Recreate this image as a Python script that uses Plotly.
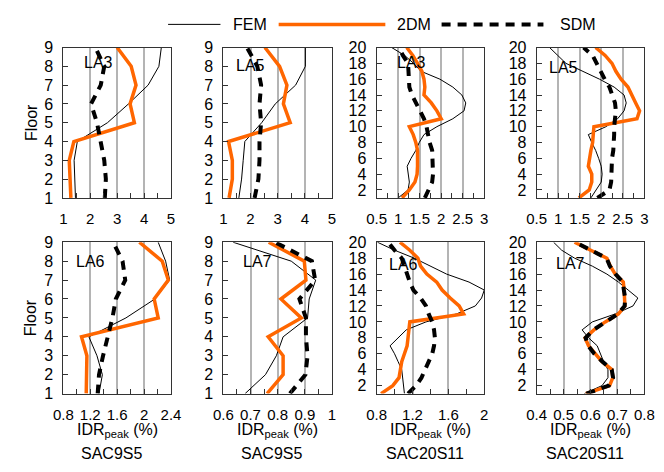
import plotly.graph_objects as go

W, H = 664, 472
FONT = "Liberation Sans, Arial, sans-serif"
ORANGE = "#FF6600"

floors9 = list(range(1, 10))
floors20 = list(range(1, 21))

# ---- SAC9S5, LA3 ----
s9_la3_fem = [1.45, 1.42, 1.40, 1.52, 2.64, 3.42, 4.15, 4.55, 4.64]
s9_la3_2dm = [1.28, 1.25, 1.22, 1.39, 3.64, 3.48, 3.70, 3.52, 3.00]
s9_la3_sdm = [2.54, 2.58, 2.52, 2.37, 2.25, 2.03, 2.39, 2.52, 2.19]
# ---- SAC9S5, LA5 ----
s9_la5_fem = [1.57, 1.67, 1.73, 1.79, 2.41, 2.91, 3.66, 4.02, 4.02]
s9_la5_2dm = [1.21, 1.33, 1.33, 1.19, 3.46, 3.21, 3.34, 3.07, 2.53]
s9_la5_sdm = [2.15, 2.29, 2.33, 2.33, 2.39, 2.33, 2.39, 2.25, 1.87]
# ---- SAC20S11, LA3 ----
s20_la3_fem = [1.00, 1.23, 1.26, 1.24, 1.21, 1.30, 1.41, 1.49, 1.60, 1.90,
               2.27, 2.53, 2.57, 2.48, 2.27, 1.97, 1.53, 1.36, 1.15, 0.85]
s20_la3_2dm = [1.09, 1.26, 1.39, 1.44, 1.45, 1.45, 1.45, 1.41, 1.35, 1.26,
               2.00, 1.90, 1.77, 1.60, 1.62, 1.60, 1.55, 1.45, 1.34, 1.20]
s20_la3_sdm = [1.62, 1.71, 1.79, 1.81, 1.81, 1.81, 1.79, 1.73, 1.70, 1.66,
               1.60, 1.51, 1.41, 1.32, 1.26, 1.26, 1.24, 1.23, 1.11, 1.02]
# ---- SAC20S11, LA5 ----
s20_la5_fem = [1.76, 1.89, 2.00, 2.02, 2.00, 1.94, 1.87, 1.78, 1.70, 2.11,
               2.38, 2.53, 2.58, 2.53, 2.30, 1.96, 1.55, 1.18, 0.99, 0.80]
s20_la5_2dm = [1.48, 1.72, 1.78, 1.78, 1.70, 1.72, 1.76, 1.80, 1.81, 1.83,
               2.83, 2.89, 2.80, 2.71, 2.62, 2.46, 2.34, 2.25, 2.09, 1.87]
s20_la5_sdm = [1.91, 2.19, 2.23, 2.23, 2.25, 2.25, 2.28, 2.30, 2.30, 2.30,
               2.32, 2.34, 2.32, 2.26, 2.19, 2.08, 1.99, 1.91, 1.80, 1.59]
# ---- SAC9S5, LA6 ----
s9_la6_fem = [1.33, 1.38, 1.30, 1.18, 1.73, 2.16, 2.38, 2.32, 2.21]
s9_la6_2dm = [1.14, 1.14, 1.15, 1.07, 2.21, 2.15, 2.36, 2.27, 1.93]
s9_la6_sdm = [1.31, 1.33, 1.39, 1.46, 1.53, 1.58, 1.72, 1.68, 1.54]
# ---- SAC9S5, LA7 ----
s9_la7_fem = [0.680, 0.755, 0.795, 0.820, 0.910, 0.916, 0.940, 0.850, 0.636]
s9_la7_2dm = [0.761, 0.820, 0.820, 0.765, 0.887, 0.812, 0.904, 0.898, 0.767]
s9_la7_sdm = [0.845, 0.902, 0.910, 0.904, 0.904, 0.880, 0.938, 0.926, 0.790]
# ---- SAC20S11, LA6 ----
s20_la6_fem = [1.11, 1.10, 1.09, 1.08, 1.04, 1.00, 0.95, 1.04, 1.13, 1.35,
               1.69, 1.90, 1.97, 2.00, 1.83, 1.58, 1.40, 1.22, 1.00, 0.81]
s20_la6_2dm = [0.85, 0.98, 1.05, 1.07, 1.08, 1.11, 1.14, 1.15, 1.16, 1.17,
               1.77, 1.72, 1.62, 1.53, 1.47, 1.36, 1.29, 1.26, 1.17, 1.06]
s20_la6_sdm = [1.15, 1.24, 1.30, 1.34, 1.37, 1.42, 1.44, 1.45, 1.44, 1.42,
               1.38, 1.35, 1.29, 1.21, 1.17, 1.14, 1.10, 1.08, 1.00, 0.93]
# ---- SAC20S11, LA7 ----
s20_la7_fem = [0.577, 0.643, 0.665, 0.665, 0.649, 0.637, 0.625, 0.593, 0.569, 0.607,
               0.692, 0.758, 0.776, 0.740, 0.704, 0.661, 0.607, 0.541, 0.493, 0.463]
s20_la7_2dm = [0.583, 0.671, 0.683, 0.680, 0.643, 0.616, 0.593, 0.580, 0.613, 0.655,
               0.704, 0.728, 0.728, 0.725, 0.722, 0.692, 0.674, 0.661, 0.601, 0.541]
s20_la7_sdm = [0.585, 0.668, 0.684, 0.679, 0.645, 0.614, 0.592, 0.582, 0.611, 0.657,
               0.702, 0.727, 0.729, 0.724, 0.720, 0.693, 0.672, 0.660, 0.603, 0.543]

panel_labels = ["LA3", "LA5", "LA3", "LA5", "LA6", "LA7", "LA6", "LA7"]
structure_labels = ["SAC9S5", "SAC9S5", "SAC20S11", "SAC20S11"]
x_ranges = [[1, 5], [1, 5], [0.5, 3], [0.5, 3], [0.8, 2.4], [0.6, 1.0], [0.8, 2.0], [0.4, 0.8]]
x_dticks = [1, 1, 0.5, 0.5, 0.4, 0.1, 0.4, 0.1]
legend_names = ["FEM", "2DM", "SDM"]

panels = [
    (floors9, s9_la3_fem, s9_la3_2dm, s9_la3_sdm),
    (floors9, s9_la5_fem, s9_la5_2dm, s9_la5_sdm),
    (floors20, s20_la3_fem, s20_la3_2dm, s20_la3_sdm),
    (floors20, s20_la5_fem, s20_la5_2dm, s20_la5_sdm),
    (floors9, s9_la6_fem, s9_la6_2dm, s9_la6_sdm),
    (floors9, s9_la7_fem, s9_la7_2dm, s9_la7_sdm),
    (floors20, s20_la6_fem, s20_la6_2dm, s20_la6_sdm),
    (floors20, s20_la7_fem, s20_la7_2dm, s20_la7_sdm),
]

# layout geometry (pixels)
cols_px = [(55, 166), (220, 332), (378, 489), (543, 654)]
rows_px = [(41, 197), (243, 400)]
label_pos = [(0.17, 0.90), (0.10, 0.88), (0.17, 0.90), (0.10, 0.87),
             (0.10, 0.87), (0.16, 0.87), (0.10, 0.85), (0.16, 0.86)]

fig = go.Figure()
layout = dict(
    width=W, height=H,
    margin=dict(l=0, r=0, t=0, b=0),
    paper_bgcolor="white", plot_bgcolor="white",
    showlegend=False,
    font=dict(family=FONT, size=15, color="black"),
)
annotations = []
shapes = []

styles = [
    dict(color="black", width=1),
    dict(color=ORANGE, width=3.5),
    dict(color="black", width=4, dash="9px,7px"),
]

for i, (floors, fem, dm2, sdm) in enumerate(panels):
    k = i + 1
    xs = "" if k == 1 else str(k)
    r, c = divmod(i, 4)
    x0, x1 = cols_px[c]
    y0, y1 = rows_px[r]
    for name, vals, st in zip(legend_names, [fem, dm2, sdm], styles):
        fig.add_trace(go.Scatter(x=vals, y=floors, mode="lines", name=name,
                                 line=st, xaxis="x" + xs, yaxis="y" + xs,
                                 showlegend=False))
    nfl = len(floors)
    layout["xaxis" + xs] = dict(
        domain=[x0 / W, x1 / W], range=x_ranges[i], dtick=x_dticks[i], tick0=0,
        anchor="y" + xs, showgrid=True, gridcolor="#b4b4b4", gridwidth=1.5,
        zeroline=False, showline=True, linecolor="#333333", linewidth=1, mirror=True,
        ticks="inside", ticklen=5, tickcolor="#333333",
        minor=dict(dtick=x_dticks[i] / 2, ticks="inside", ticklen=5,
                   tickcolor="#333333", showgrid=False),
        tickfont=dict(size=15), ticklabelstandoff=7,
    )
    layout["yaxis" + xs] = dict(
        domain=[1 - y1 / H, 1 - y0 / H], range=[1, nfl], dtick=1 if nfl == 9 else 2,
        tick0=0, anchor="x" + xs, showgrid=False, zeroline=False,
        showline=True, linecolor="#333333", linewidth=1, mirror=True,
        ticks="inside", ticklen=5, tickcolor="#333333",
        tickfont=dict(size=16), ticklabelstandoff=6,
    )
    lx, ly = label_pos[i]
    annotations.append(dict(text=panel_labels[i], xref="x" + xs + " domain",
                            yref="y" + xs + " domain", x=lx, y=ly,
                            xanchor="left", yanchor="middle", showarrow=False,
                            font=dict(size=16)))
    if r == 1:
        cx = (x0 + x1) / 2 / W
        annotations.append(dict(text="IDR<sub>peak</sub> (%)", xref="paper", yref="paper",
                                x=cx, y=1 - 438 / H, xanchor="center", yanchor="middle",
                                showarrow=False, font=dict(size=16)))
        annotations.append(dict(text=structure_labels[c], xref="paper", yref="paper",
                                x=cx - 6 / W, y=1 - 462 / H, xanchor="center",
                                yanchor="middle", showarrow=False, font=dict(size=16)))
    if c == 0:
        annotations.append(dict(text="Floor", xref="paper", yref="paper",
                                x=22 / W, y=1 - ((y0 + y1) / 2) / H, textangle=-90,
                                xanchor="center", yanchor="middle", showarrow=False,
                                font=dict(size=16)))

# legend drawn at the top
leg_y = 1 - 17 / H
leg_items = [((163, 217), 228, styles[0]), ((277, 387), 397, styles[1]), ((445, 550), 565, styles[2])]
for name, ((lx0, lx1), tx, st) in zip(legend_names, leg_items):
    shapes.append(dict(type="line", xref="paper", yref="paper",
                       x0=lx0 / W, x1=lx1 / W, y0=leg_y, y1=leg_y,
                       line=dict(color=st["color"], width=st["width"],
                                 dash=st.get("dash", "solid"))))
    annotations.append(dict(text=name, xref="paper", yref="paper", x=tx / W, y=leg_y,
                            xanchor="left", yanchor="middle", showarrow=False,
                            font=dict(size=16)))

layout["annotations"] = annotations
layout["shapes"] = shapes
fig.update_layout(**layout)
fig.write_html("out.html")
